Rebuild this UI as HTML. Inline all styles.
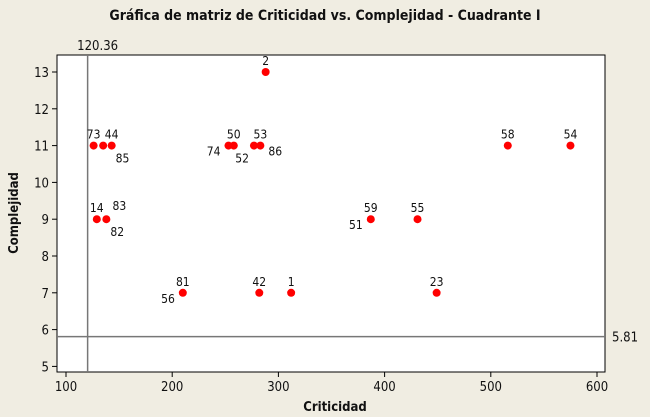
<!DOCTYPE html>
<html><head><meta charset="utf-8">
<style>
html,body{margin:0;padding:0;background:#f0ede2;}
svg{display:block;font-family:"DejaVu Sans Condensed","Liberation Sans",sans-serif;}
</style></head>
<body>
<svg id="chart" width="650" height="417" viewBox="0 0 650 417">
<rect x="0" y="0" width="650" height="417" fill="#f0ede2"/>
<text x="325" y="20" text-anchor="middle" font-size="14" font-weight="bold" fill="#111">Gráfica de matriz de Criticidad vs. Complejidad - Cuadrante I</text>
<rect x="57" y="55" width="548" height="317" fill="#fff" stroke="#000" stroke-width="1"/>
<g id="axes"></g>
<g id="marks"></g>
<text x="335" y="411" text-anchor="middle" font-size="13" font-weight="bold" fill="#111">Criticidad</text>
<text x="18" y="213" text-anchor="middle" font-size="13" font-weight="bold" fill="#111" transform="rotate(-90 18 213)">Complejidad</text>
</svg>
<script>
const xs = [126,135,143,129,138,253,258,277,283,288,210,282,312,387,431,449,516,575];
const ys = [11,11,11,9,9,11,11,11,11,13,7,7,7,9,9,7,11,11];
const labelsAbove = ["73","","44","14","83","","50","","53","2","81","42","1","59","55","23","58","54"];
const labelsBelow = ["","","85","","82","74","","52","86","","56","","","51","","","",""];
const belowSide = ["","","r","","r","l","","l","r","","l","","","l","","","",""];
const xTicks = [100,200,300,400,500,600];
const yTicks = [5,6,7,8,9,10,11,12,13];
const refX = 120.36, refY = 5.81;
const NS="http://www.w3.org/2000/svg";
function X(v){return 66+(v-100)*1.062;}
function Y(v){return 72+(13-v)*36.8;}
function mk(tag,attrs,parent,txt){const e=document.createElementNS(NS,tag);for(const k in attrs)e.setAttribute(k,attrs[k]);if(txt!==undefined)e.textContent=txt;parent.appendChild(e);return e;}
const axes=document.getElementById('axes'), marks=document.getElementById('marks');
xTicks.forEach(t=>{
  const l=mk('line',{x1:X(t),x2:X(t),y1:372,y2:377,stroke:'#000'},axes);
  
  
  const tx=mk('text',{x:X(t),y:391,'text-anchor':'middle','font-size':13,fill:'#111'},axes,String(t));
  
  
});
yTicks.forEach(t=>{
  const l=mk('line',{x1:52,x2:57,y1:Y(t),y2:Y(t),stroke:'#000'},axes);
  
  
  const tx=mk('text',{x:49,y:Y(t)+5,'text-anchor':'end','font-size':13,fill:'#111'},axes,String(t));
  
  
});
const rv=mk('line',{x1:X(refX),x2:X(refX),y1:55,y2:372,stroke:'#777','stroke-width':1.5},axes);


const rvt=mk('text',{x:X(refX)+10,y:50,'text-anchor':'middle','font-size':13,fill:'#111'},axes,String(refX));


const rh=mk('line',{x1:57,x2:605,y1:Y(refY),y2:Y(refY),stroke:'#777','stroke-width':1.5},axes);


const rht=mk('text',{x:612,y:Y(refY)+5,'font-size':13,fill:'#111'},axes,String(refY));


xs.forEach((v,i)=>{
  const cx=X(v), cy=Y(ys[i]);
  const c=mk('circle',{cx:cx,cy:cy,r:4,fill:'#f00'},marks);
  
  
  if(labelsAbove[i]){
    const t=mk('text',{x:cx,y:cy-7,'text-anchor':'middle','font-size':12,fill:'#111'},marks,labelsAbove[i]);
    if(labelsAbove[i]==='83'){t.setAttribute('x',cx+13);t.setAttribute('y',cy-9);}
    
    
  }
  if(labelsBelow[i]){
    const r=belowSide[i]==='r';
    const t=mk('text',{x:r?cx+4:cx-5,y:cy+17,'text-anchor':r?'start':'end','font-size':12,fill:'#111'},marks,labelsBelow[i]);
    if(labelsBelow[i]==='74'||labelsBelow[i]==='51'||labelsBelow[i]==='56'){t.setAttribute('y',cy+10);t.setAttribute('x',cx-8);}
    if(labelsBelow[i]==='86'){t.setAttribute('y',cy+10);t.setAttribute('x',cx+8);}
    
    
  }
});
</script>
</body></html>
